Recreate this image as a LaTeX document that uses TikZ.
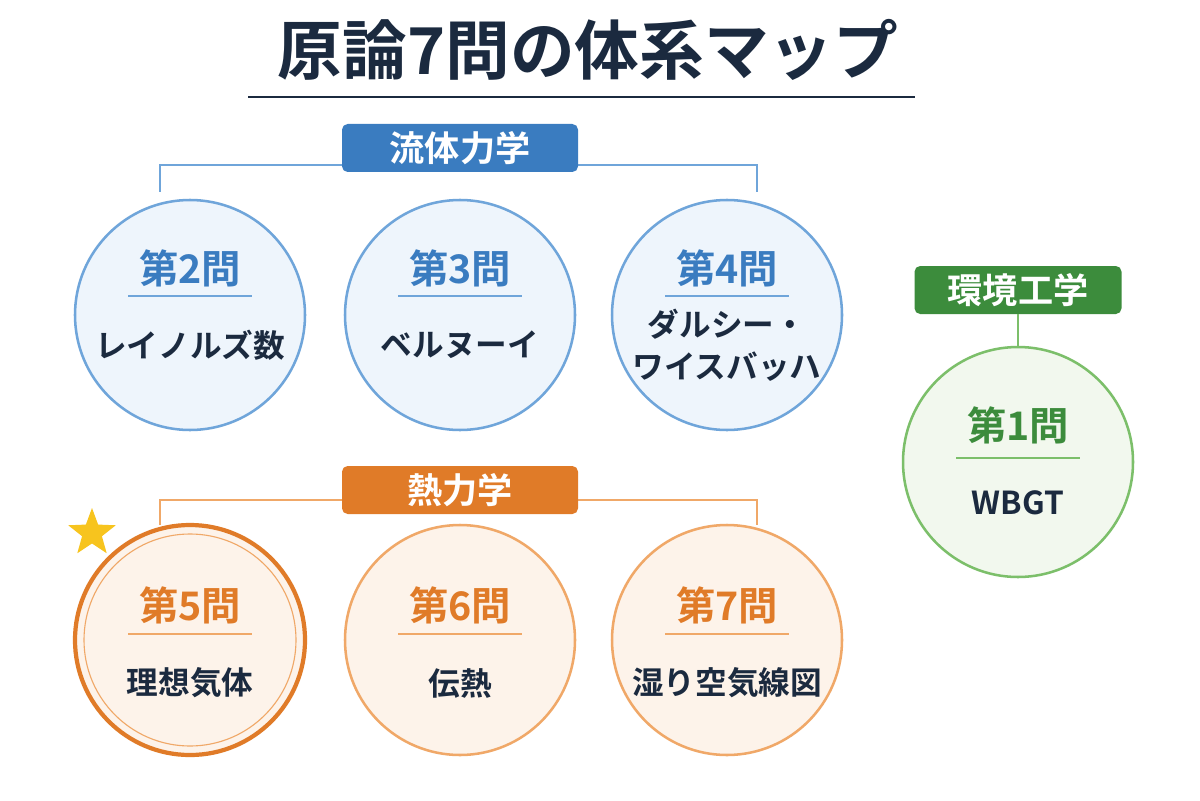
\documentclass[tikz,border=0pt]{standalone}
\usepackage{fontspec}
\setmainfont{Noto Sans CJK JP}[BoldFont={Noto Sans CJK JP Bold}]
\usetikzlibrary{shapes.geometric}
\definecolor{navy}{HTML}{1B2A3F}
\definecolor{bluedk}{HTML}{3A7CC0}
\definecolor{blueln}{HTML}{6FA5DA}
\definecolor{bluebg}{HTML}{EEF5FC}
\definecolor{orgdk}{HTML}{E07B28}
\definecolor{orgln}{HTML}{F0A868}
\definecolor{orgbg}{HTML}{FDF3EA}
\definecolor{grndk}{HTML}{3C8C3C}
\definecolor{grnln}{HTML}{7CBF6A}
\definecolor{grnbg}{HTML}{F2F8EE}
\tikzset{
  qcircle/.style={circle, minimum size=230*0.025cm, line width=1.8pt},
  tag/.style={rounded corners=4pt, minimum width=236*0.025cm, minimum height=48*0.025cm,
    text=white, font=\bfseries\fontsize{25}{27}\selectfont},
  qno/.style={font=\bfseries\fontsize{28}{30}\selectfont},
  qname/.style={font=\bfseries\fontsize{22.5}{30}\selectfont, text=navy, align=center}
}
\begin{document}
\begin{tikzpicture}[x=0.025cm, y=-0.025cm]
  \useasboundingbox[fill=white] (0,0) rectangle (1200,800);

  % title
  \node[font=\bfseries\fontsize{46}{50}\selectfont, text=navy] (title) at (588,50) {原論7問の体系マップ};
  \draw[navy, line width=1.4pt] (248,97) -- (915,97);

  % fluid dynamics
  \draw[blueln, line width=1.8pt] (160,192) -- (160,165) -- (757,165) -- (757,192);
  \node[tag, fill=bluedk] (fluid) at (460,148) {流体力学};
  \foreach \x/\q/\t [count=\i] in {190/2/レイノルズ数, 460/3/ベルヌーイ, 727/4/{ダルシー・\\ワイスバッハ}} {
    \node[qcircle, draw=blueln, fill=bluebg] (qf\i) at (\x,315) {};
    \node[qno, text=bluedk] (qfn\i) at (\x,268) {第{\q}問};
    \draw[blueln, line width=1pt] (\x-62,296) -- (\x+62,296);
    \node[qname] (qft\i) at (\x,345) {\t};
  }

  % thermodynamics
  \draw[orgln, line width=1.8pt] (160,525) -- (160,500) -- (757,500) -- (757,525);
  \node[tag, fill=orgdk] (thermo) at (460,490) {熱力学};
  \foreach \x/\q/\t [count=\i] in {190/5/理想気体, 460/6/伝熱, 727/7/湿り空気線図} {
    \node[qcircle, draw=orgln, fill=orgbg] (qt\i) at (\x,640) {};
    \node[qno, text=orgdk] (qtn\i) at (\x,605) {第{\q}問};
    \draw[orgln, line width=1pt] (\x-62,634) -- (\x+62,634);
    \node[qname] (qtt\i) at (\x,683) {\t};
  }
  \draw[orgdk, line width=3pt] (qt1) circle (115);
  \draw[orgln, line width=0.8pt] (qt1) circle (106);
  \node[star, star points=5, star point ratio=2.4, fill={rgb,255:red,247;green,196;blue,30},
    minimum size=50*0.025cm, inner sep=0pt] (mark) at (92,533) {};

  % environmental engineering
  \node[tag, fill=grndk, minimum width=207*0.025cm] (env) at (1018,290) {環境工学};
  \node[qcircle, draw=grnln, fill=grnbg] (qe1) at (1018,462) {};
  \draw[grnln, line width=1.8pt] (env) -- (qe1);
  \node[qno, text=grndk] (qen1) at (1018,425) {第1問};
  \draw[grnln, line width=1pt] (956,458) -- (1080,458);
  \node[qname] (qet1) at (1018,503) {WBGT};
\end{tikzpicture}
\end{document}
